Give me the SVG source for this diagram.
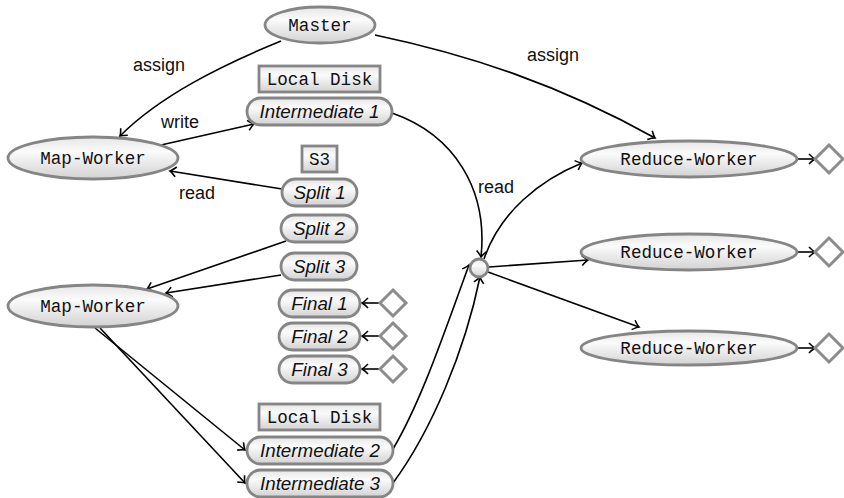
<svg xmlns="http://www.w3.org/2000/svg" width="844" height="498" viewBox="0 0 844 498">
  <style>
    .node { fill: url(#shade); stroke: #858585; stroke-width: 2.8; }
    .box { fill: url(#shade); stroke: #858585; stroke-width: 2.8; }
    .sink { fill: #ffffff; stroke: #8c8c8c; stroke-width: 3; }
    .mono { font-family: "Liberation Mono", "DejaVu Sans Mono", monospace; font-size: 17.6px; fill: #111; text-anchor: middle; }
    .data { font-family: "Liberation Sans", Arial, sans-serif; font-style: italic; font-size: 18.8px; fill: #111; text-anchor: middle; }
    .lbl { font-family: "Liberation Sans", Arial, sans-serif; font-size: 18px; fill: #111; text-anchor: middle; }
    .edge { fill: none; stroke: #000; stroke-width: 1.6; marker-end: url(#tip); }
  </style>
  <defs>
    <linearGradient id="shade" x1="0" y1="0" x2="0" y2="1">
      <stop offset="0" stop-color="#e6e6e6"/>
      <stop offset="0.35" stop-color="#fbfbfb"/>
      <stop offset="1" stop-color="#d2d2d2"/>
    </linearGradient>
    <marker id="tip" viewBox="-8 -6 10 12" markerWidth="10" markerHeight="12" refX="0" refY="0" orient="auto" markerUnits="userSpaceOnUse">
      <path d="M-6,-5 Q-2,-1 0,0 Q-2,1 -6,5" fill="none" stroke="#000" stroke-width="1.6"/>
    </marker>
  </defs>

  <!-- connectors -->
  <g id="connectors">
    <path class="edge" d="M281,41 C220,66 160,96 120,136"/>
    <path class="edge" d="M375,35 C470,55 560,85 655,138"/>
    <path class="edge" d="M161,145 L254,124"/>
    <path class="edge" d="M282,189 L170,171"/>
    <path class="edge" d="M392,113 C455,135 488,190 481,257"/>
    <path class="edge" d="M484,259 C500,212 540,180 582,163"/>
    <path class="edge" d="M489,267 L588,260"/>
    <path class="edge" d="M488,272 L639,327"/>
    <path class="edge" d="M286,241 L147,289"/>
    <path class="edge" d="M281,275 L166,293"/>
    <path class="edge" d="M95,328 L245,450"/>
    <path class="edge" d="M100,328 L245,483"/>
    <path class="edge" d="M393,449 C422,400 445,330 469,265"/>
    <path class="edge" d="M393,483 C432,430 465,350 480,277"/>
    <path class="edge" d="M798,159 L815,159"/>
    <path class="edge" d="M798,252 L815,252"/>
    <path class="edge" d="M798,348 L815,348"/>
    <path class="edge" d="M380,303 L362,303"/>
    <path class="edge" d="M380,336 L362,336"/>
    <path class="edge" d="M380,369 L362,369"/>
    <text class="lbl" x="159" y="71">assign</text>
    <text class="lbl" x="553" y="61">assign</text>
    <text class="lbl" x="180" y="128">write</text>
    <text class="lbl" x="197" y="199">read</text>
    <text class="lbl" x="496" y="193">read</text>
  </g>

  <!-- control -->
  <g id="master">
    <ellipse class="node" cx="320" cy="25" rx="55" ry="18"/>
    <text class="mono" x="320" y="31">Master</text>
  </g>

  <!-- mappers -->
  <g id="map-worker-1">
    <ellipse class="node" cx="93" cy="158" rx="85" ry="21"/>
    <text class="mono" x="93" y="164">Map-Worker</text>
  </g>
  <g id="map-worker-2">
    <ellipse class="node" cx="93" cy="306" rx="85" ry="21"/>
    <text class="mono" x="93" y="312">Map-Worker</text>
  </g>

  <!-- storage labels -->
  <g id="local-disk-1">
    <rect class="box" x="259" y="66" width="121" height="26"/>
    <text class="mono" x="319.5" y="85">Local Disk</text>
  </g>
  <g id="s3">
    <rect class="box" x="302" y="146" width="35" height="26"/>
    <text class="mono" x="319.5" y="165">S3</text>
  </g>
  <g id="local-disk-2">
    <rect class="box" x="259" y="404" width="121" height="26"/>
    <text class="mono" x="319.5" y="423">Local Disk</text>
  </g>

  <!-- data items -->
  <g id="intermediate-1">
    <rect class="node" x="247" y="98" width="145" height="27" rx="13.5"/>
    <text class="data" x="319.5" y="118">Intermediate 1</text>
  </g>
  <g id="split-1">
    <rect class="node" x="282" y="179" width="75" height="27" rx="13.5"/>
    <text class="data" x="319.5" y="199">Split 1</text>
  </g>
  <g id="split-2">
    <rect class="node" x="281" y="215" width="76" height="27" rx="13.5"/>
    <text class="data" x="319" y="235">Split 2</text>
  </g>
  <g id="split-3">
    <rect class="node" x="281" y="253" width="76" height="27" rx="13.5"/>
    <text class="data" x="319" y="273">Split 3</text>
  </g>
  <g id="final-1">
    <rect class="node" x="279" y="290" width="81" height="27" rx="13.5"/>
    <text class="data" x="319.5" y="310">Final 1</text>
  </g>
  <g id="final-2">
    <rect class="node" x="279" y="323" width="81" height="27" rx="13.5"/>
    <text class="data" x="319.5" y="343">Final 2</text>
  </g>
  <g id="final-3">
    <rect class="node" x="279" y="356" width="81" height="27" rx="13.5"/>
    <text class="data" x="319.5" y="376">Final 3</text>
  </g>
  <g id="intermediate-2">
    <rect class="node" x="247" y="437" width="146" height="27" rx="13.5"/>
    <text class="data" x="320" y="457">Intermediate 2</text>
  </g>
  <g id="intermediate-3">
    <rect class="node" x="247" y="470" width="146" height="27" rx="13.5"/>
    <text class="data" x="320" y="490">Intermediate 3</text>
  </g>

  <!-- sinks on finals -->
  <g id="final-1-sink"><path class="sink" d="M393,290 L406,303 L393,316 L380,303 Z"/></g>
  <g id="final-2-sink"><path class="sink" d="M393,323 L406,336 L393,349 L380,336 Z"/></g>
  <g id="final-3-sink"><path class="sink" d="M393,356 L406,369 L393,382 L380,369 Z"/></g>

  <!-- shuffle hub -->
  <g id="hub">
    <circle class="node" cx="479" cy="268" r="9"/>
  </g>

  <!-- reducers -->
  <g id="reduce-worker-1">
    <ellipse class="node" cx="689" cy="159" rx="108" ry="18"/>
    <text class="mono" x="689" y="165">Reduce-Worker</text>
  </g>
  <g id="reduce-worker-2">
    <ellipse class="node" cx="689" cy="252" rx="108" ry="18"/>
    <text class="mono" x="689" y="258">Reduce-Worker</text>
  </g>
  <g id="reduce-worker-3">
    <ellipse class="node" cx="689" cy="348" rx="108" ry="17"/>
    <text class="mono" x="689" y="354">Reduce-Worker</text>
  </g>
  <g id="reduce-1-sink"><path class="sink" d="M829,145 L843,159 L829,173 L815,159 Z"/></g>
  <g id="reduce-2-sink"><path class="sink" d="M829,238 L843,252 L829,266 L815,252 Z"/></g>
  <g id="reduce-3-sink"><path class="sink" d="M829,334 L843,348 L829,362 L815,348 Z"/></g>
</svg>
